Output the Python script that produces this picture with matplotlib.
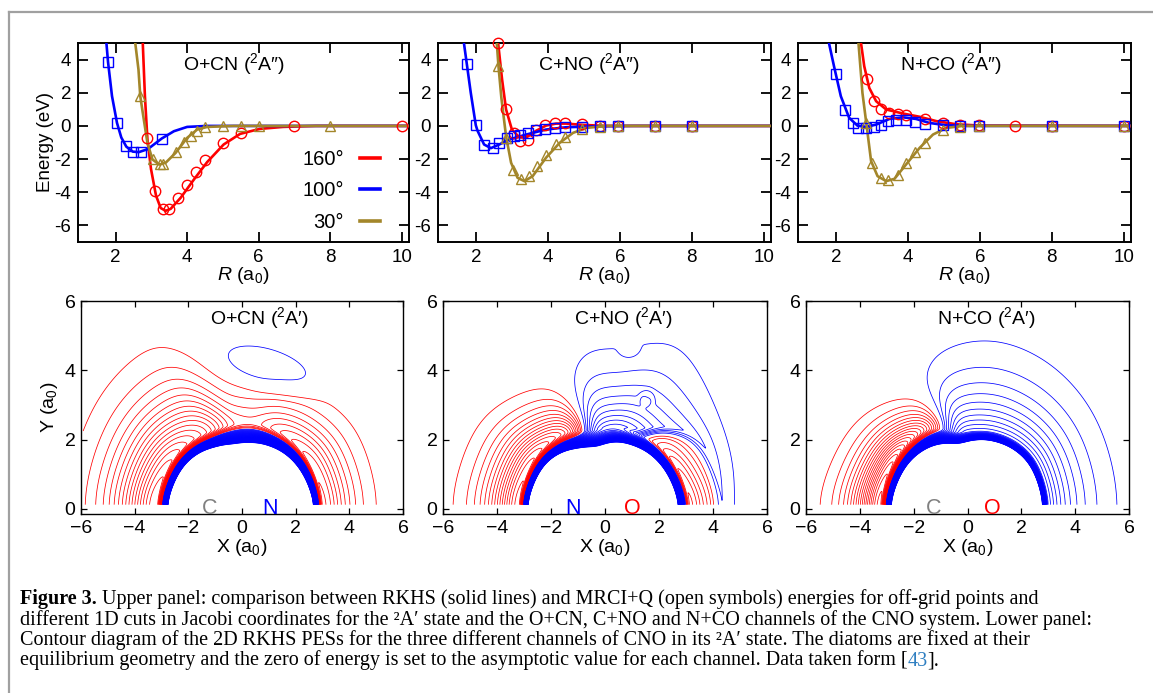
import numpy as np
import matplotlib
matplotlib.use('Agg')
import matplotlib.pyplot as plt

plt.rcParams['font.family'] = ['Liberation Sans', 'DejaVu Sans']
plt.rcParams['mathtext.fontset'] = 'custom'
plt.rcParams['mathtext.rm'] = 'Liberation Sans'
plt.rcParams['mathtext.it'] = 'Liberation Sans:italic'
plt.rcParams['axes.unicode_minus'] = False

RED = '#ff0000'
BLUE = '#0000ff'
GOLD = '#a3862a'

# ---------------- upper panels: 1D cuts, R (a0) / E (eV)
# lines = RKHS, *_Rq/*_Eq = MRCI+Q symbols
# O+CN
ocn_160_R = [2.74, 2.76, 2.82, 2.89, 2.99, 3.13, 3.26, 3.40, 3.54, 3.82, 4.19, 4.56, 5.02, 5.48, 6.03, 6.68, 7.6, 10.2]
ocn_160_E = [5.6, 5.0, 1.8, -0.8, -2.6, -4.2, -4.95, -5.12, -5.0, -4.33, -3.23, -2.18, -1.12, -0.48, -0.18, -0.06, 0.0, 0.0]
ocn_160_Rq = [2.88, 3.10, 3.33, 3.49, 3.74, 4.00, 4.25, 4.51, 5.00, 5.50, 7.00, 10.0]
ocn_160_Eq = [-0.72, -3.93, -4.98, -4.98, -4.37, -3.57, -2.79, -2.08, -1.02, -0.42, -0.02, 0.0]
ocn_100_R = [1.72, 1.79, 1.9, 2.04, 2.16, 2.3, 2.48, 2.65, 2.9, 3.29, 3.63, 4.0, 4.56, 10.2]
ocn_100_E = [5.6, 3.84, 1.8, 0.18, -0.7, -1.25, -1.55, -1.58, -1.4, -0.76, -0.32, -0.06, 0.0, 0.0]
ocn_100_Rq = [1.79, 2.04, 2.30, 2.48, 2.71, 3.29]
ocn_100_Eq = [3.84, 0.18, -1.22, -1.58, -1.58, -0.76]
ocn_30_R = [2.53, 2.55, 2.64, 2.69, 2.76, 2.89, 3.03, 3.22, 3.4, 3.68, 4.0, 4.28, 4.56, 5.3, 10.2]
ocn_30_E = [5.6, 5.0, 3.4, 1.8, 0.79, -1.02, -2.02, -2.33, -2.22, -1.62, -0.72, -0.22, -0.06, 0.0, 0.0]
ocn_30_Rq = [2.69, 3.05, 3.24, 3.32, 3.68, 3.92, 4.10, 4.28, 4.50, 5.0, 5.5, 6.0, 8.0]
ocn_30_Eq = [1.8, -2.0, -2.28, -2.3, -1.58, -0.96, -0.6, -0.3, -0.08, 0.0, 0.0, 0.0, 0.0]
# C+NO
cno_160_R = [2.61, 2.62, 2.73, 2.84, 3.0, 3.21, 3.4, 3.67, 3.95, 4.23, 4.51, 4.98, 5.63, 10.2]
cno_160_E = [5.6, 5.0, 2.8, 1.0, -0.2, -0.7, -0.7, -0.3, 0.02, 0.14, 0.14, 0.06, 0.0, 0.0]
cno_160_Rq = [2.62, 2.84, 3.07, 3.23, 3.44, 3.67, 3.93, 4.19, 4.47, 4.96, 5.44, 5.95, 6.98, 8.0]
cno_160_Eq = [5.0, 1.05, -0.42, -0.92, -0.82, -0.22, 0.08, 0.18, 0.18, 0.1, 0.0, 0.0, 0.0, 0.0]
cno_100_R = [1.66, 1.67, 1.75, 1.86, 2.0, 2.05, 2.23, 2.42, 2.65, 2.93, 3.4, 3.95, 4.51, 5.44, 6.37, 10.2]
cno_100_E = [5.6, 5.0, 3.74, 2.0, 0.04, -0.3, -1.12, -1.34, -1.12, -0.82, -0.52, -0.22, -0.08, -0.02, 0.0, 0.0]
cno_100_Rq = [1.75, 2.0, 2.23, 2.47, 2.65, 2.86, 3.07, 3.23, 3.44, 3.67, 3.91, 4.19, 4.47, 4.96, 5.44, 5.95, 6.98, 8.0]
cno_100_Eq = [3.74, 0.04, -1.16, -1.32, -1.02, -0.7, -0.6, -0.52, -0.4, -0.25, -0.16, -0.1, -0.08, -0.04, -0.02, 0.0, 0.0, 0.0]
cno_30_R = [2.56, 2.59, 2.63, 2.71, 2.84, 2.98, 3.16, 3.35, 3.58, 3.95, 4.33, 4.7, 5.07, 5.63, 10.2]
cno_30_E = [5.6, 4.8, 3.6, 1.7, -0.62, -2.22, -3.13, -3.33, -3.03, -1.92, -1.02, -0.42, -0.12, 0.0, 0.0]
cno_30_Rq = [2.62, 2.84, 3.02, 3.26, 3.49, 3.69, 3.95, 4.23, 4.48, 4.96, 5.44, 5.95, 6.98, 8.0]
cno_30_Eq = [3.6, -0.72, -2.63, -3.19, -3.03, -2.43, -1.78, -1.12, -0.66, -0.18, -0.06, 0.0, 0.0, 0.0]
# N+CO
nco_160_R = [2.69, 2.70, 2.79, 2.93, 3.12, 3.4, 3.86, 4.33, 4.79, 5.35, 6.0, 10.2]
nco_160_E = [5.6, 5.0, 3.6, 2.29, 1.49, 0.99, 0.75, 0.55, 0.29, 0.1, 0.02, 0.0]
nco_160_Rq = [2.87, 3.05, 3.26, 3.49, 3.72, 3.95, 4.47, 4.98, 5.46, 5.97, 6.98, 8.0, 10.0]
nco_160_Eq = [2.8, 1.53, 0.99, 0.79, 0.69, 0.67, 0.43, 0.16, 0.08, 0.04, 0.0, 0.0, 0.0]
nco_100_R = [1.8, 1.81, 1.95, 2.14, 2.37, 2.6, 2.84, 3.12, 3.49, 3.86, 4.23, 4.6, 5.07, 5.72, 10.2]
nco_100_E = [5.6, 5.0, 3.6, 1.79, 0.49, 0.02, -0.06, 0.08, 0.42, 0.52, 0.42, 0.18, 0.04, 0.0, 0.0]
nco_100_Rq = [2.0, 2.26, 2.47, 2.63, 2.84, 3.05, 3.26, 3.46, 3.67, 3.95, 4.2, 4.47, 4.98, 5.46, 5.97, 8.0, 10.0]
nco_100_Eq = [3.14, 0.95, 0.18, -0.12, -0.14, -0.06, 0.08, 0.28, 0.38, 0.34, 0.26, 0.12, 0.04, -0.02, -0.02, 0.0, 0.0]
nco_30_R = [2.62, 2.63, 2.74, 2.87, 2.98, 3.16, 3.4, 3.63, 3.95, 4.33, 4.7, 5.07, 5.53, 10.2]
nco_30_E = [5.6, 5.0, 1.99, -0.22, -2.12, -3.03, -3.33, -3.19, -2.33, -1.32, -0.52, -0.12, 0.0, 0.0]
nco_30_Rq = [2.84, 3.0, 3.26, 3.46, 3.72, 3.95, 4.2, 4.47, 4.98, 5.46, 5.97, 8.0, 10.0]
nco_30_Eq = [0.18, -2.23, -3.13, -3.27, -2.93, -2.23, -1.58, -1.02, -0.22, -0.06, 0.0, 0.0, 0.0]

top_titles = ['O+CN ($^{2}$A″)', 'C+NO ($^{2}$A″)', 'N+CO ($^{2}$A″)']
angle_labels = ['160°', '100°', '30°']

# ---------------- lower panels: 2D RKHS PES, described by parameters read
# at these Jacobi angles (deg, from +X): inner edge, minimum, depth,
# range, positive shell height, shell radius, shell decay length
PHI = [0, 30, 60, 80, 100, 120, 150, 180]

ocn_rin = [2.71, 2.42, 2.08, 1.93, 1.88, 2.04, 2.5, 2.81]
ocn_re = [3.05, 2.85, 2.6, 2.5, 2.45, 2.55, 2.95, 3.25]
ocn_dep = [2.6, 2.4, 1.7, 1.0, 1.2, 2.8, 4.0, 4.6]
ocn_rng = [1.51, 1.5, 1.8, 1.9, 1.8, 1.0, 1.05, 1.09]
ocn_pos = [0, 0, 0, 0, 0, 0, 0, 0]
ocn_rbar = [3.05, 2.85, 2.6, 2.5, 2.45, 2.55, 2.95, 3.25]
ocn_tail = [1, 1, 1, 1, 1, 1, 1, 1]
ocn_bumps = ([1.0], [4.05], [0.45], [2.05], [0.68], [-12])

cno_rin = [2.76, 2.45, 2.1, 1.95, 1.79, 2.0, 2.58, 2.9]
cno_re = [3.22, 2.85, 2.5, 2.4, 2.3, 2.6, 3.0, 3.25]
cno_dep = [1.9, 1.4, 0.0, 0.0, 0.0, 2.5, 3.8, 4.2]
cno_rng = [2.2, 2.6, 2.0, 2.0, 2.0, 2.0, 1.5, 1.43]
cno_pos = [0.7, 0.9, 2.0, 2.5, 2.2, 0.0, 0.0, 0.0]
cno_rbar = [4.4, 4.1, 2.6, 2.4, 2.3, 2.6, 3.0, 3.25]
cno_tail = [0.55, 0.7, 1.39, 0.96, 1.06, 1.0, 1.0, 1.0]
cno_bumps = ([1.55, 0.9], [3.2, 4.6], [0.3, -0.12], [0.3, 0.4], [0.25, 0.3], [0, 0])

nco_rin = [2.8, 2.62, 2.2, 2.0, 1.86, 2.15, 2.58, 2.88]
nco_re = [3.05, 2.9, 2.5, 2.3, 2.2, 2.75, 3.05, 3.3]
nco_dep = [0, 0, 0, 0, 0, 2.5, 4.2, 5.0]
nco_rng = [2, 2, 2, 2, 2, 2.2, 1.89, 1.6]
nco_pos = [2.65, 2.65, 2.6, 2.6, 2.6, 0.9, 0, 0]
nco_rbar = [3.05, 2.9, 2.5, 2.3, 2.2, 2.75, 3.05, 3.3]
nco_tail = [1.07, 1.07, 1.11, 1.12, 1.06, 1.0, 1, 1]
nco_bumps = ([], [], [], [], [], [])

bottom_titles = ['O+CN ($^{2}$A′)', 'C+NO ($^{2}$A′)', 'N+CO ($^{2}$A′)']
atom_left = ['C', 'N', 'C']
atom_right = ['N', 'O', 'O']
atom_left_x = [-1.2, -1.17, -1.24]
atom_right_x = [1.03, 1.02, 0.93]
atom_color = {'C': '#808080', 'N': BLUE, 'O': RED}

EMAX = 12.0
red_levels = np.arange(-6.0, -0.1, 0.25)
blue_levels = np.arange(0.25, EMAX + 0.01, 0.25)


def smooth_param(vals, phi_deg):
    fine = np.linspace(0, 180, 721)
    v = np.interp(fine, PHI, vals)
    k = np.exp(-0.5 * (np.arange(-96, 97) / 24.0) ** 2)
    k /= k.sum()
    vs = np.convolve(np.pad(v, 96, mode='reflect'), k, mode='valid')
    return np.interp(phi_deg, fine, vs)


def surface(rin, re, dep, rng, pos, rbar, tail, bumps):
    x = np.linspace(-5.92, 5.95, 720)
    y = np.linspace(0.12, 6.0, 380)
    X, Y = np.meshgrid(x, y)
    R = np.hypot(X, Y)
    phi = np.degrees(np.arctan2(Y, X))
    Rin, Re, D, a, P, Rb, L = (smooth_param(v, phi) for v in (rin, re, dep, rng, pos, rbar, tail))
    d = R - Re
    E = -D * (1 - (1 - np.exp(-a * np.clip(d, 0, None))) ** 2)
    s = np.clip(-d, 0, None) / (Re - Rin)
    E = E + (D + EMAX) * s ** 2
    shell = np.where(R >= Rb, np.exp(-np.clip(R - Rb, 0, None) / L), np.exp(-((R - Rb) / 0.3) ** 2))
    E = E + P * shell
    for bx, by, ba, bsx, bsy, bang in zip(*bumps):
        t = np.radians(bang)
        u = (X - bx) * np.cos(t) + (Y - by) * np.sin(t)
        v = -(X - bx) * np.sin(t) + (Y - by) * np.cos(t)
        q = (u / bsx) ** 2 + (v / bsy) ** 2
        E = E + ba * np.exp(-q ** 2)
    return X, Y, np.minimum(E, EMAX + 5)


top_data = [
    [(ocn_160_R, ocn_160_E, ocn_160_Rq, ocn_160_Eq),
     (ocn_100_R, ocn_100_E, ocn_100_Rq, ocn_100_Eq),
     (ocn_30_R, ocn_30_E, ocn_30_Rq, ocn_30_Eq)],
    [(cno_160_R, cno_160_E, cno_160_Rq, cno_160_Eq),
     (cno_100_R, cno_100_E, cno_100_Rq, cno_100_Eq),
     (cno_30_R, cno_30_E, cno_30_Rq, cno_30_Eq)],
    [(nco_160_R, nco_160_E, nco_160_Rq, nco_160_Eq),
     (nco_100_R, nco_100_E, nco_100_Rq, nco_100_Eq),
     (nco_30_R, nco_30_E, nco_30_Rq, nco_30_Eq)],
]
pes_data = [
    (ocn_rin, ocn_re, ocn_dep, ocn_rng, ocn_pos, ocn_rbar, ocn_tail, ocn_bumps),
    (cno_rin, cno_re, cno_dep, cno_rng, cno_pos, cno_rbar, cno_tail, cno_bumps),
    (nco_rin, nco_re, nco_dep, nco_rng, nco_pos, nco_rbar, nco_tail, nco_bumps),
]

W, H = 1153, 693
fig = plt.figure(figsize=(W / 100, H / 100), dpi=100)

# background axes for frame + caption
bg = fig.add_axes([0, 0, 1, 1])
bg.axis('off')
bg.plot([9 / W, 1], [1 - 12 / H, 1 - 12 / H], color='#a0a0a0', lw=1.6)
bg.plot([9 / W, 9 / W], [0, 1 - 12 / H], color='#a0a0a0', lw=1.6)
bg.set_xlim(0, 1)
bg.set_ylim(0, 1)

colors = [RED, BLUE, GOLD]
markers = ['o', 's', '^']
msizes = [7.5, 7.0, 6.5]

top_left = [78, 438, 798]
top_w = [331, 333, 333]
title_x = [5.3, 5.14, 5.2]
for i in range(3):
    ax = fig.add_axes([top_left[i] / W, 1 - 242 / H, top_w[i] / W, 199 / H])
    handles = []
    for j, (Rl, El, Rq, Eq) in enumerate(top_data[i]):
        h, = ax.plot(Rl, El, color=colors[j], lw=1.9, zorder=3)
        handles.append(h)
        ax.plot(Rq, Eq, ls='none', marker=markers[j], ms=msizes[j], mfc='none',
                mec=colors[j], mew=1.0, zorder=4, clip_on=False)
    ax.set_xlim(0.95, 10.2)
    ax.set_ylim(-7, 5)
    ax.set_xticks([2, 4, 6, 8, 10])
    ax.set_yticks([-6, -4, -2, 0, 2, 4])
    ax.tick_params(direction='in', top=True, right=True, length=7, width=1.3,
                   labelsize=13.5, pad=5)
    for sp in ax.spines.values():
        sp.set_linewidth(1.4)
    ax.set_xlabel(r'$R$ (a$_0$)', fontsize=14, labelpad=-0.5)
    ax.text(title_x[i], 3.75, top_titles[i], fontsize=14, ha='center', va='center')
    if i == 0:
        ax.set_ylabel('Energy (eV)', fontsize=13.5, labelpad=0)
        leg = ax.legend(handles, angle_labels, loc='lower right', bbox_to_anchor=(0.955, -0.02),
                        frameon=False, markerfirst=False, handlelength=1.0, fontsize=14.5,
                        labelspacing=0.62, handletextpad=0.8, borderpad=0.2)
        for lh in leg.get_lines():
            lh.set_linewidth(2.6)

bot_left = [81, 443, 806]
bot_w = [322, 324, 323]
btitle_x = [0.66, 0.68, 0.71]
for i in range(3):
    ax = fig.add_axes([bot_left[i] / W, 1 - 514 / H, bot_w[i] / W, 213 / H])
    X, Y, E = surface(*pes_data[i])
    ax.contour(X, Y, E, levels=red_levels, colors=RED, linewidths=0.55, linestyles='solid')
    ax.contour(X, Y, E, levels=blue_levels, colors=BLUE, linewidths=0.55, linestyles='solid')
    ax.set_xlim(-6, 6)
    ax.set_ylim(-0.15, 6)
    ticks = [-6, -4, -2, 0, 2, 4, 6]
    ax.set_xticks(ticks, labels=[str(t).replace('-', '−') for t in ticks])
    ax.set_yticks([0, 2, 4, 6])
    ax.tick_params(direction='in', top=True, right=True, length=4.5, width=0.9,
                   labelsize=14, pad=4)
    for sp in ax.spines.values():
        sp.set_linewidth(1.0)
    ax.set_xlabel(r'X (a$_0$)', fontsize=14, labelpad=0.5)
    ax.text(btitle_x[i], 5.5, bottom_titles[i], fontsize=14, ha='center', va='center')
    ax.text(atom_left_x[i], 0.02, atom_left[i], color=atom_color[atom_left[i]],
            fontsize=15.5, ha='center', va='center')
    ax.text(atom_right_x[i], 0.02, atom_right[i], color=atom_color[atom_right[i]],
            fontsize=15.5, ha='center', va='center')
    if i == 0:
        ax.set_ylabel(r'Y (a$_0$)', fontsize=14, labelpad=3)

# caption
serif = ['Liberation Serif', 'DejaVu Serif']
fs = 14.5
cx = 20 / W
base = [604, 624.5, 645, 665.5]
t0 = bg.text(cx, 1 - base[0] / H, 'Figure 3.', family=serif, fontweight='bold',
             fontsize=fs, va='baseline')
bg.annotate('Upper panel: comparison between RKHS (solid lines) and MRCI+Q (open symbols) '
            'energies for off-grid points and', xy=(1, 0), xycoords=t0,
            xytext=(3.5, 0), textcoords='offset points', va='bottom', family=serif, fontsize=fs)
bg.text(cx, 1 - base[1] / H, 'different 1D cuts in Jacobi coordinates for the ²A′ state and the '
        'O+CN, C+NO and N+CO channels of the CNO system. Lower panel:',
        family=serif, fontsize=fs, va='baseline')
bg.text(cx, 1 - base[2] / H, 'Contour diagram of the 2D RKHS PESs for the three different channels '
        'of CNO in its ²A′ state. The diatoms are fixed at their',
        family=serif, fontsize=fs, va='baseline')
t3 = bg.text(cx, 1 - base[3] / H, 'equilibrium geometry and the zero of energy is set to the '
             'asymptotic value for each channel. Data taken form [',
             family=serif, fontsize=fs, va='baseline')
t4 = bg.annotate('43', xy=(1, 0), xycoords=t3, va='bottom', family=serif, fontsize=fs,
                 color='#2f7fc1')
bg.annotate('].', xy=(1, 0), xycoords=t4, va='bottom', family=serif, fontsize=fs)

fig.savefig('out.png', dpi=100)
